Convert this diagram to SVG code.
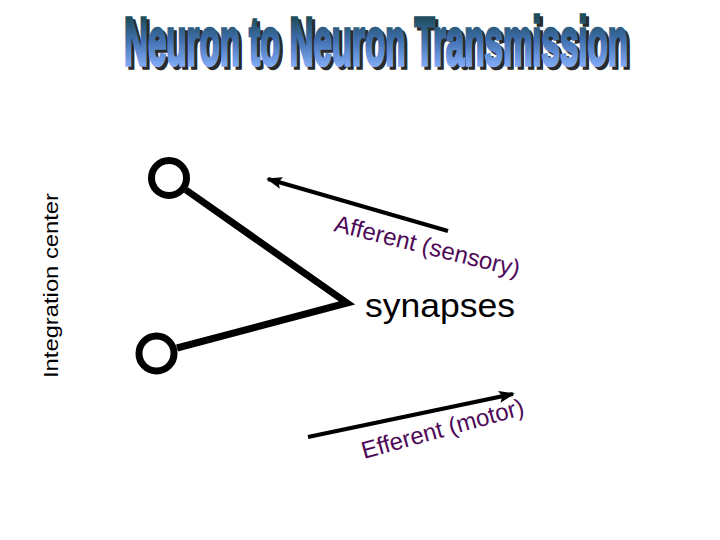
<svg xmlns="http://www.w3.org/2000/svg" width="720" height="540" viewBox="0 0 720 540">
  <defs>
    <linearGradient id="titleGrad" gradientUnits="userSpaceOnUse" x1="0" y1="18" x2="0" y2="66">
      <stop offset="0" stop-color="#1f4d5c"/>
      <stop offset="0.45" stop-color="#3f6fae"/>
      <stop offset="1" stop-color="#80aaf6"/>
    </linearGradient>
    <marker id="arrowBig" markerWidth="16" markerHeight="12" refX="14" refY="6" orient="auto" markerUnits="userSpaceOnUse" viewBox="0 0 16 12">
      <path d="M0,0 L16,6 L0,12 L3,6 Z" fill="#000"/>
    </marker>
  </defs>
  <style>
    .title { font-family: "Liberation Sans", Arial, sans-serif; font-weight: bold; font-size: 68px; }
    .label { font-family: "Liberation Sans", Arial, sans-serif; font-size: 24px; fill: #4e0a58; }
    .plain { font-family: "Liberation Sans", Arial, sans-serif; fill: #000; }
    .neuron { fill: none; stroke: #000; stroke-width: 7; }
    .conn { fill: none; stroke: #000; stroke-width: 4; }
  </style>
  <rect width="720" height="540" fill="#fff"/>

  <g id="title">
    <text class="title" x="127" y="68" fill="#2a2a2a" stroke="#2a2a2a" stroke-width="3.5" textLength="504" lengthAdjust="spacingAndGlyphs">Neuron to Neuron Transmission</text>
    <text class="title" x="124" y="65" fill="url(#titleGrad)" stroke="url(#titleGrad)" stroke-width="3.5" textLength="504" lengthAdjust="spacingAndGlyphs">Neuron to Neuron Transmission</text>
  </g>

  <g id="integration-center">
    <text class="plain" font-size="20" transform="translate(58,378) rotate(-90)" textLength="185" lengthAdjust="spacingAndGlyphs">Integration center</text>
  </g>

  <g id="neuron-top">
    <circle class="neuron" cx="169" cy="178" r="17.5"/>
  </g>
  <g id="neuron-bottom">
    <circle class="neuron" cx="156.5" cy="353.5" r="17.5"/>
  </g>

  <g id="synapse">
    <polyline class="neuron" points="186,190 347,303 177,348" stroke-linejoin="miter" stroke-miterlimit="6"/>
    <text class="plain" x="365" y="317" font-size="33" textLength="150" lengthAdjust="spacingAndGlyphs">synapses</text>
  </g>

  <g id="connectors">
    <line class="conn" x1="448" y1="231" x2="268" y2="179" marker-end="url(#arrowBig)"/>
    <line class="conn" x1="308" y1="437" x2="513" y2="394" marker-end="url(#arrowBig)"/>
  </g>

  <g id="labels">
    <text class="label" transform="translate(333,231) rotate(14)">Afferent (sensory)</text>
    <text class="label" transform="translate(364,459) rotate(-15.5)">Efferent (motor)</text>
  </g>
</svg>
